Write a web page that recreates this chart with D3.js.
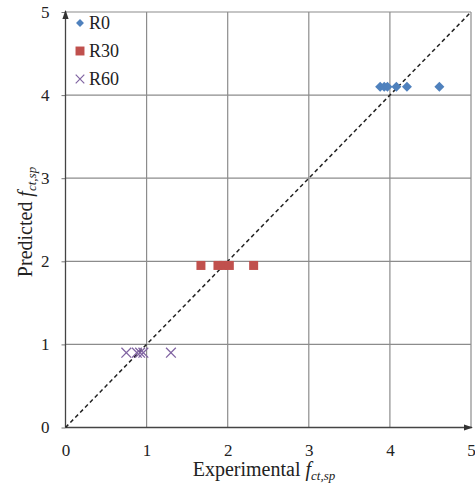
<!DOCTYPE html>
<html>
<head>
<meta charset="utf-8">
<script src="https://cdn.jsdelivr.net/npm/d3@7"></script>
<style>
  html, body { margin: 0; padding: 0; background: #fff; }
  svg { display: block; }
  svg text { font-family: "Liberation Serif", "DejaVu Serif", serif !important; fill: #222; }
</style>
</head>
<body>
<svg id="chart" width="475" height="486"></svg>
<script>
// Predicted vs experimental splitting tensile strength
const r0X  = [3.88, 3.93, 3.97, 4.08, 4.21, 4.61];
const r0Y  = [4.1, 4.1, 4.1, 4.1, 4.1, 4.1];
const r30X = [1.67, 1.88, 1.95, 2.02, 2.32];
const r30Y = [1.95, 1.95, 1.95, 1.95, 1.95];
const r60X = [0.75, 0.88, 0.92, 0.96, 1.30];
const r60Y = [0.9, 0.9, 0.9, 0.9, 0.9];
const tickValues = [0, 1, 2, 3, 4, 5];
const seriesNames = ["R0", "R30", "R60"];

const svg = d3.select("#chart");
const plotLeft = 65.5, plotRight = 471, plotTop = 12, plotBottom = 427.5;

const x = d3.scaleLinear().domain([0, 5]).range([plotLeft, plotRight]);
const y = d3.scaleLinear().domain([0, 5]).range([plotBottom, plotTop]);

// arrowhead for the axes
svg.append("defs").append("marker")
  .attr("id", "arrow").attr("viewBox", "0 0 10 10")
  .attr("refX", 9).attr("refY", 5)
  .attr("markerWidth", 7).attr("markerHeight", 7)
  .attr("orient", "auto")
  .append("path").attr("d", "M0,1.5 L10,5 L0,8.5 Z").attr("fill", "#333");

// gridlines
const grid = svg.append("g");
grid.selectAll(".vx").data(tickValues.slice(1)).join("line")
  .attr("x1", d => x(d)).attr("x2", d => x(d))
  .attr("y1", y(0)).attr("y2", y(5))
  .attr("stroke", "#8c8c8c").attr("stroke-width", 1.2);
grid.selectAll(".hy").data(tickValues.slice(1)).join("line")
  .attr("x1", x(0)).attr("x2", x(5))
  .attr("y1", d => y(d)).attr("y2", d => y(d))
  .attr("stroke", "#8c8c8c").attr("stroke-width", 1.2);

// y tick marks and labels
const yAxis = d3.axisLeft(y).tickValues(tickValues).tickSize(4).tickPadding(12).tickFormat(d3.format("d"));
const gy = svg.append("g").attr("transform", `translate(${plotLeft},0)`).call(yAxis);
gy.select(".domain").remove();
gy.selectAll(".tick line").attr("stroke", "#777");
gy.selectAll(".tick text").style("font-size", "17px");

// x tick labels
const xAxis = d3.axisBottom(x).tickValues(tickValues).tickSize(0).tickPadding(16).tickFormat(d3.format("d"));
const gx = svg.append("g").attr("transform", `translate(0,${plotBottom})`).call(xAxis);
gx.select(".domain").remove();
gx.selectAll(".tick text").style("font-size", "17px");

// axis lines with arrows
svg.append("line").attr("x1", x(0)).attr("x2", x(5) + 1).attr("y1", y(0)).attr("y2", y(0))
  .attr("stroke", "#444").attr("stroke-width", 1.3).attr("marker-end", "url(#arrow)");
svg.append("line").attr("x1", x(0)).attr("x2", x(0)).attr("y1", y(0)).attr("y2", y(5) - 1)
  .attr("stroke", "#444").attr("stroke-width", 1.3).attr("marker-end", "url(#arrow)");

// line of equality
svg.append("line").attr("x1", x(0)).attr("y1", y(0)).attr("x2", x(5)).attr("y2", y(5))
  .attr("stroke", "#222").attr("stroke-width", 1.5).attr("stroke-dasharray", "4,3");

// series markers
const diamond = d3.symbol().type(d3.symbolDiamond2).size(64);
const square = d3.symbol().type(d3.symbolSquare).size(81);
const cross = d3.symbol().type(d3.symbolX).size(64);

svg.append("g").selectAll("path").data(r0X.map((v, i) => [v, r0Y[i]])).join("path")
  .attr("d", diamond).attr("transform", d => `translate(${x(d[0])},${y(d[1])})`)
  .attr("fill", "#4f81bd");
svg.append("g").selectAll("path").data(r30X.map((v, i) => [v, r30Y[i]])).join("path")
  .attr("d", square).attr("transform", d => `translate(${x(d[0])},${y(d[1])})`)
  .attr("fill", "#c0504d");
svg.append("g").selectAll("path").data(r60X.map((v, i) => [v, r60Y[i]])).join("path")
  .attr("d", cross).attr("transform", d => `translate(${x(d[0])},${y(d[1])})`)
  .attr("fill", "none").attr("stroke", "#8064a2").attr("stroke-width", 1.3);

// legend
const legend = svg.append("g");
const legendSymbols = [
  { sym: d3.symbol().type(d3.symbolDiamond2).size(40), fill: "#4f81bd", stroke: "none" },
  { sym: d3.symbol().type(d3.symbolSquare).size(80), fill: "#c0504d", stroke: "none" },
  { sym: d3.symbol().type(d3.symbolX).size(50), fill: "none", stroke: "#8064a2" }
];
seriesNames.forEach((name, i) => {
  const ly = 23 + i * 28;
  const s = legendSymbols[i];
  legend.append("path").attr("d", s.sym).attr("transform", `translate(80,${ly})`)
    .attr("fill", s.fill).attr("stroke", s.stroke).attr("stroke-width", 1.2);
  legend.append("text").attr("x", 89).attr("y", ly + 6).style("font-size", "18px").text(name);
});

// axis titles
const xt = svg.append("text").attr("x", 264).attr("y", 476).attr("text-anchor", "middle").style("font-size", "20px");
xt.append("tspan").text("Experimental ");
xt.append("tspan").attr("font-style", "italic").text("f");
xt.append("tspan").attr("font-style", "italic").style("font-size", "13px").attr("dy", 4).text("ct,sp");

const yt = svg.append("text").attr("transform", "translate(32,222) rotate(-90)")
  .attr("text-anchor", "middle").style("font-size", "20px");
yt.append("tspan").text("Predicted ");
yt.append("tspan").attr("font-style", "italic").text("f");
yt.append("tspan").attr("font-style", "italic").style("font-size", "13px").attr("dy", 4).text("ct,sp");
</script>
</body>
</html>
